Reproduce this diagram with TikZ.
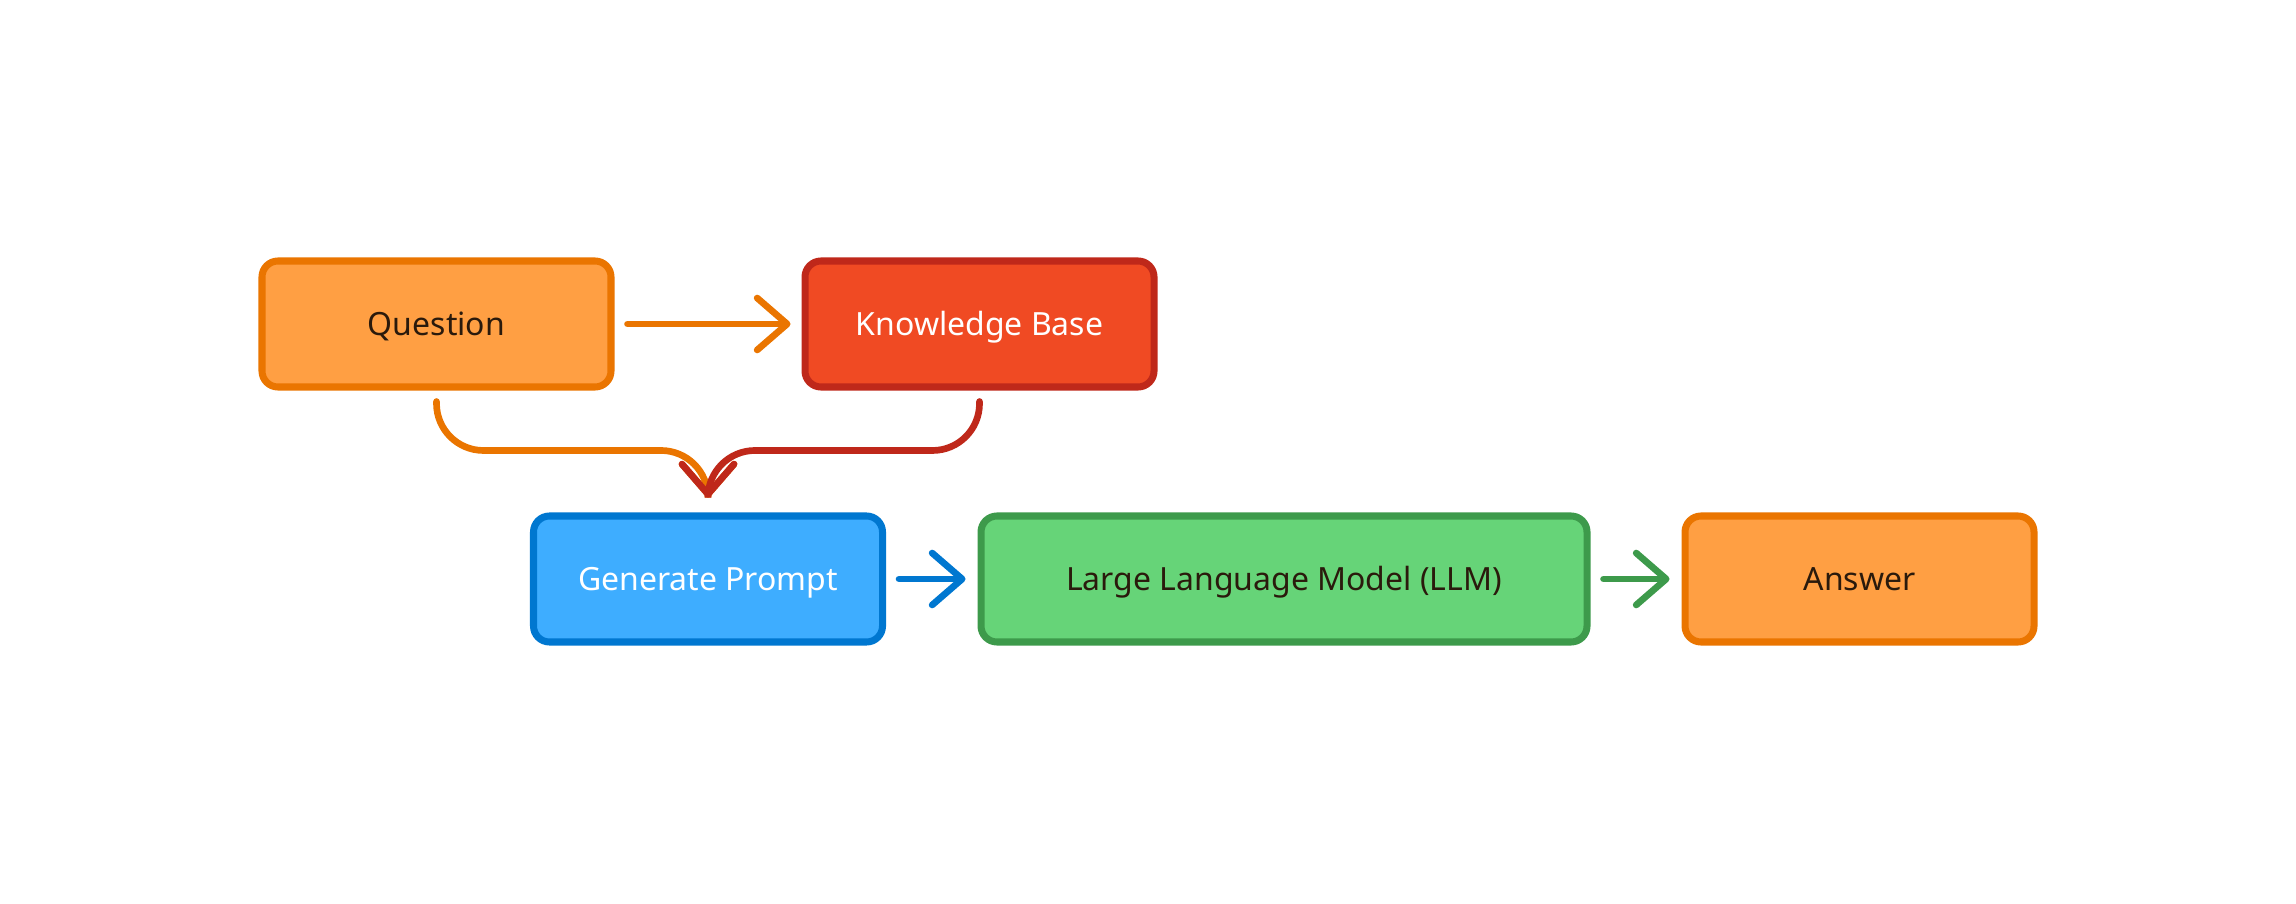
\documentclass[tikz,border=0pt]{standalone}
\usepackage{fontspec}
\setmainfont{Noto Sans}
\usepackage{tikz}
\usetikzlibrary{arrows.meta, calc, positioning}
\definecolor{myorange}{HTML}{FF9F43}
\definecolor{myorangeline}{HTML}{EA7500}
\definecolor{myred}{HTML}{F04A23}
\definecolor{myredline}{HTML}{BF281A}
\definecolor{myblue}{HTML}{3EADFF}
\definecolor{mybueline}{HTML}{0077D0}
\definecolor{mygreen}{HTML}{66D478}
\definecolor{mygreenline}{HTML}{3D9A4B}
\definecolor{mydark}{HTML}{2A1A0C}
\tikzset{
	box/.style={draw, line width=2pt, rounded corners=0.16cm, minimum width=3.49cm, minimum height=1.26cm, font=\fontsize{9.1}{11}\selectfont, text height=1.7ex, text depth=0.45ex},
	flow/.style={line width=1.9pt, line cap=round, -{Straight Barb[length=0.3cm, width=0.52cm, round]}},
}

\begin{document}
\begin{tikzpicture}
			\useasboundingbox (0,0) rectangle (22.96,-9.04);
			\node [box, fill=myorange, draw=myorangeline, text=mydark] (question) at (4.365,-3.24) {Question};
			\node [box, fill=myred, draw=myredline, text=white] (kb) at (9.795,-3.24) {Knowledge Base};
			\node [box, fill=myblue, draw=mybueline, text=white] (prompt) at (7.08,-5.79) {Generate Prompt};
			\node [box, fill=mygreen, draw=mygreenline, text=mydark, minimum width=6.06cm] (llm) at (12.84,-5.79) {Large Language Model (LLM)};
			\node [box, fill=myorange, draw=myorangeline, text=mydark] (answer) at (18.595,-5.79) {Answer};
			\coordinate (join) at ($(prompt.north)+(0,0.62)$);
			\draw [flow, myorangeline, shorten <=0.13cm, shorten >=0.11cm] (question) -- (kb);
			\draw [flow, myorangeline, rounded corners=0.47cm, shorten <=0.11cm, shorten >=0.15cm] (question.south) |- (join) -- (prompt.north);
			\draw [flow, myredline, rounded corners=0.47cm, shorten <=0.11cm, shorten >=0.15cm] (kb.south) |- (join) -- (prompt.north);
			\draw [flow, mybueline, shorten <=0.13cm, shorten >=0.12cm] (prompt) -- (llm);
			\draw [flow, mygreenline, shorten <=0.13cm, shorten >=0.12cm] (llm) -- (answer);
		\end{tikzpicture}
\end{document}
